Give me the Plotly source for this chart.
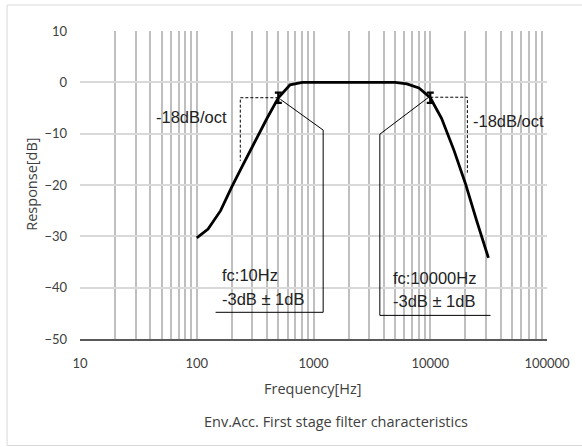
import plotly.graph_objects as go

# ---------------- data ----------------
freq_hz = [100, 125, 160, 200, 250, 315, 400, 500, 630, 800, 1000, 2000, 4000, 5000,
           6300, 8000, 10000, 12500, 16000, 20000, 25000, 31500]
response_db = [-30.3, -28.6, -25.0, -20.3, -16.0, -11.5, -7.0, -3.0, -0.5, 0.0, 0.0, 0.0, 0.0, 0.0,
               -0.3, -1.1, -3.0, -7.0, -13.3, -19.7, -27.0, -34.2]

fc_freq = [500, 10000]
fc_resp = [-3, -3]
fc_tol = [1, 1]

# -18dB/oct guide (dashed) lines
low_guide_f = [500, 236, 236]
low_guide_db = [-3.0, -3.0, -15.3]
high_guide_f = [10000, 20800, 20800]
high_guide_db = [-2.9, -2.9, -17.6]

# callout leader lines
low_call_f = [520, 1210, 1210, 145]
low_call_db = [-3.3, -9.3, -44.8, -44.8]
high_call_f = [9570, 3700, 3700, 32800]
high_call_db = [-3.0, -10.1, -45.4, -45.4]

x_tick_vals = [10, 100, 1000, 10000, 100000]
x_tick_text = ["10", "100", "1000", "10000", "100000"]
y_tick_vals = [10, 0, -10, -20, -30, -40, -50]

minor_vals = [m * 10 ** e for e in range(1, 5) for m in range(2, 10)]

# ---------------- layout helpers ----------------
W, H = 582, 447
L, R, T, B = 80, 28, 31, 108
PW, PH = W - L - R, H - T - B


def xp(px):
    return (px - L) / PW


def yp(py):
    return (H - B - py) / PH


TICK_FONT = dict(family="Lato, Open Sans, sans-serif", size=13, color="#404040")
TITLE_FONT = dict(family="Open Sans, Lato, sans-serif", size=14.5, color="#404040")
NOTE_FONT = dict(family="Liberation Sans, Arial, sans-serif", size=16.5, color="#222222")

fig = go.Figure()

fig.add_trace(go.Scatter(x=freq_hz, y=response_db, mode="lines",
                         line=dict(color="black", width=2.8), hoverinfo="skip"))

for gx, gy in [(low_guide_f, low_guide_db), (high_guide_f, high_guide_db)]:
    fig.add_trace(go.Scatter(x=gx, y=gy, mode="lines",
                             line=dict(color="black", width=1, dash="3px,2px"),
                             hoverinfo="skip"))

for cx, cy in [(low_call_f, low_call_db), (high_call_f, high_call_db)]:
    fig.add_trace(go.Scatter(x=cx, y=cy, mode="lines",
                             line=dict(color="black", width=1), hoverinfo="skip"))

fig.add_trace(go.Scatter(x=fc_freq, y=fc_resp, mode="markers",
                         marker=dict(size=1, color="black"),
                         error_y=dict(type="data", array=fc_tol, visible=True,
                                      color="black", thickness=2.2, width=3.5),
                         hoverinfo="skip"))

# white boxes hiding the gridlines behind the notes
boxes = [(142.7, 98.7, 240, 133.3), (466, 103, 556, 137),
         (210, 255, 326.7, 322), (384, 258, 519, 325)]
shapes = []
for x0, y0, x1, y1 in boxes:
    shapes.append(dict(type="rect", xref="paper", yref="paper",
                       x0=xp(x0), x1=xp(x1), y0=yp(y1), y1=yp(y0),
                       fillcolor="white", line=dict(width=0), layer="between"))
# outer chart border
shapes.append(dict(type="rect", xref="paper", yref="paper",
                   x0=xp(6), x1=xp(595), y0=yp(445.5), y1=yp(5),
                   line=dict(color="#d9d9d9", width=1), fillcolor="rgba(0,0,0,0)",
                   layer="below"))

annotations = [
    dict(text="-18dB/oct", x=xp(193), y=yp(117), font=NOTE_FONT),
    dict(text="-18dB/oct", x=xp(515), y=yp(121.5), font=NOTE_FONT),
    dict(text="fc:10Hz", x=xp(222), y=yp(275), xanchor="left", font=NOTE_FONT),
    dict(text="-3dB ± 1dB", x=xp(222), y=yp(298.5), xanchor="left", font=NOTE_FONT),
    dict(text="fc:10000Hz", x=xp(395.5), y=yp(277.5), xanchor="left", font=NOTE_FONT),
    dict(text="-3dB ± 1dB", x=xp(395.5), y=yp(301), xanchor="left", font=NOTE_FONT),
    dict(text="Frequency[Hz]", x=xp(316.5), y=yp(388.5), font=TITLE_FONT),
    dict(text="Response[dB]", x=xp(30), y=yp(184), textangle=-90, font=TITLE_FONT),
    dict(text="Env.Acc. First stage filter characteristics", x=xp(339.5), y=yp(421.5),
         font=TITLE_FONT),
]
for a in annotations:
    a.setdefault("xref", "paper")
    a.setdefault("yref", "paper")
    a.setdefault("xanchor", "center")
    a.setdefault("yanchor", "middle")
    a["showarrow"] = False

fig.update_layout(
    width=W, height=H,
    margin=dict(l=L, r=R, t=T, b=B, pad=0),
    paper_bgcolor="white", plot_bgcolor="white",
    showlegend=False,
    shapes=shapes,
    annotations=annotations,
    xaxis=dict(type="log", range=[1, 5], tickmode="array",
               tickvals=x_tick_vals, ticktext=x_tick_text,
               showgrid=True, gridcolor="#bfbfbf", gridwidth=1.5,
               minor=dict(tickmode="array", tickvals=minor_vals, showgrid=True,
                          gridcolor="#bfbfbf", gridwidth=1.5),
               showline=True, linecolor="#595959", linewidth=1.5,
               ticks="", tickfont=TICK_FONT, ticklabelstandoff=12,
               zeroline=False, fixedrange=True),
    yaxis=dict(range=[-50, 10], tickmode="array", tickvals=y_tick_vals,
               showgrid=True, gridcolor="#d9d9d9", gridwidth=1.5,
               showline=False, ticks="", tickfont=TICK_FONT,
               ticklabelstandoff=12, zeroline=False, fixedrange=True),
)

fig.write_html("out.html", config={"displayModeBar": False},
               post_script="document.body.style.margin='0';document.body.style.overflow='hidden';")
